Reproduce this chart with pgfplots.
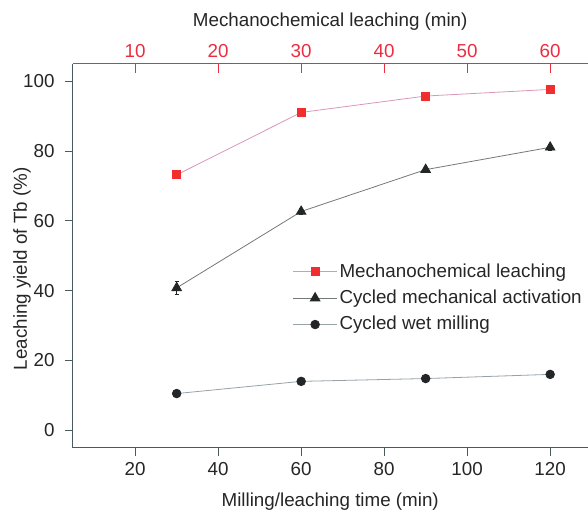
\documentclass[border=0pt]{standalone}
\usepackage{fontspec}
\setmainfont{Liberation Sans}
\usepackage{pgfplots}
\pgfplotsset{compat=1.18}
\definecolor{axred}{RGB}{235,45,65}
\definecolor{mred}{RGB}{242,45,45}
\definecolor{pinkline}{RGB}{218,150,185}
\definecolor{axgray}{RGB}{75,90,92}
\definecolor{dk}{RGB}{35,38,38}
\definecolor{grayline}{RGB}{115,120,120}
\definecolor{lgrayline}{RGB}{150,162,168}
\begin{document}
\fontsize{18.8}{22}\selectfont
\begin{tikzpicture}
\begin{axis}[name=main, scale only axis, width=515pt, height=384pt,
  xmin=5, xmax=129, ymin=-5, ymax=105,
  axis x line*=bottom, axis y line*=left,
  axis line style={axgray, line width=0.9pt, -},
  xtick={20,40,...,120}, ytick={0,20,...,100},
  tick style={axgray, line width=0.9pt}, tick align=outside, major tick length=8pt,
  font=\fontsize{18.8}{22}\selectfont,
  /pgf/number format/assume math mode=true,
  xticklabel style={text=black!85},
  yticklabel style={text=black!85, xshift=-4pt},
  xlabel={Milling/leaching time (min)},
  ylabel={Leaching yield of Tb (\%)},
  every axis x label/.style={at={(axis description cs:0.5,0)}, yshift=-54pt, anchor=center, text=black!85},
  every axis y label/.style={at={(axis description cs:0,0.466)}, rotate=90, anchor=center, yshift=51pt, text=black!85},
  legend style={draw=none, fill=none, at={(axis cs:57.2,49)}, anchor=north west,
    font=\fontsize{18.8}{22}\selectfont, row sep=6pt, text=black!85},
  legend cell align=left,
  legend image code/.code={\draw[mark repeat=2, mark phase=2, #1] plot coordinates {(0pt,0pt) (22pt,0pt) (44pt,0pt)};},
]
\addplot[pinkline, line width=0.8pt, mark=square*, mark size=4pt, mark options={solid, fill=mred, draw=mred}]
  coordinates {(30,73.2) (60,91.1) (90,95.8) (120,97.7)};
\addlegendentry{Mechanochemical leaching}
\addplot[grayline, line width=0.8pt, mark=triangle*, mark size=5.5pt, mark options={solid, fill=dk, draw=dk},
  error bars/.cd, y dir=both, y explicit, error bar style={dk, line width=0.6pt}, error mark options={rotate=90, mark size=2pt, dk}]
  coordinates {(30,40.8) +- (0,1.8) (60,62.7) +- (0,0.8) (90,74.7) +- (0,0.8) (120,81.1) +- (0,0.8)};
\addlegendentry{Cycled mechanical activation}
\addplot[lgrayline, line width=0.8pt, mark=*, mark size=4.3pt, mark options={solid, fill=dk, draw=dk}]
  coordinates {(30,10.5) (60,14.0) (90,14.8) (120,16.0)};
\addlegendentry{Cycled wet milling}
\end{axis}
\begin{axis}[scale only axis, width=515pt, height=384pt,
  xmin=2.5, xmax=64.5, ymin=0, ymax=1,
  axis x line*=top, axis y line=none,
  axis line style={axred, line width=1pt, -},
  xtick={10,20,...,60},
  tick style={axred, line width=0.9pt}, tick align=inside, major tick length=9pt,
  font=\fontsize{18.8}{22}\selectfont,
  /pgf/number format/assume math mode=true,
  xticklabel style={text=axred},
  xlabel={Mechanochemical leaching (min)},
  every axis x label/.style={at={(axis description cs:0.5,1)}, yshift=42pt, anchor=center, text=black!85},
]
\end{axis}
\useasboundingbox (main.south west) ++(-73pt,-60pt) rectangle ++(588pt,508pt);
\end{tikzpicture}
\end{document}
